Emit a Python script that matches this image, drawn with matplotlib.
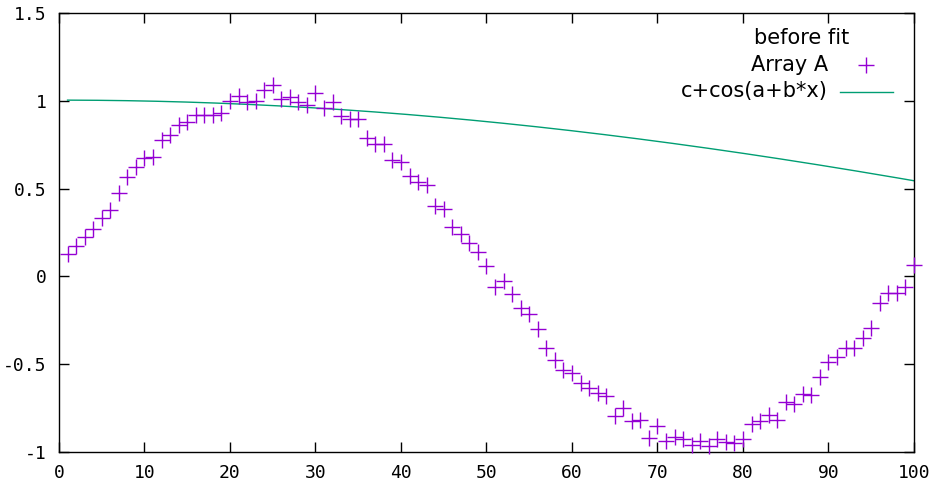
import numpy as np
import matplotlib
matplotlib.use("Agg")
import matplotlib.pyplot as plt

# ---- data ----
x_data = list(range(1, 101))
y_data = [0.128, 0.173, 0.223, 0.272, 0.335, 0.379, 0.474, 0.568, 0.622, 0.673,
          0.679, 0.778, 0.806, 0.863, 0.878, 0.920, 0.920, 0.922, 0.933, 1.000,
          1.028, 0.996, 1.000, 1.063, 1.093, 1.010, 1.025, 0.993, 0.979, 1.047,
          0.958, 0.994, 0.916, 0.897, 0.897, 0.787, 0.755, 0.755, 0.664, 0.654,
          0.572, 0.540, 0.521, 0.403, 0.384, 0.280, 0.242, 0.192, 0.139, 0.061,
          -0.059, -0.024, -0.101, -0.178, -0.216, -0.302, -0.406, -0.477, -0.534, -0.549,
          -0.606, -0.638, -0.667, -0.682, -0.794, -0.752, -0.823, -0.819, -0.923, -0.855,
          -0.937, -0.918, -0.929, -0.963, -0.937, -0.967, -0.929, -0.942, -0.948, -0.929,
          -0.841, -0.824, -0.790, -0.819, -0.718, -0.727, -0.670, -0.675, -0.572, -0.486,
          -0.458, -0.406, -0.410, -0.353, -0.296, -0.150, -0.093, -0.093, -0.059, 0.065]

# initial parameters of c+cos(a+b*x) (before fit)
param_a = 0.0
param_b = 0.01
param_c = 0.005

x_ticks = [0, 10, 20, 30, 40, 50, 60, 70, 80, 90, 100]
y_ticks = [-1, -0.5, 0, 0.5, 1, 1.5]
y_tick_labels = ["-1", "-0.5", "0", "0.5", "1", "1.5"]

legend_title = "before fit"
label_points = "Array A"
label_func = "c+cos(a+b*x)"

point_color = "#9400d3"
line_color = "#009e73"

W, H = 940, 492
fig = plt.figure(figsize=(W / 100, H / 100), dpi=100)
ax = fig.add_axes([59 / W, 1 - 451.8 / H, (914 - 59) / W, (451.8 - 13.3) / H])

xf = np.linspace(x_data[0], x_data[-1], 400)
yf = param_c + np.cos(param_a + param_b * xf)
ax.plot(xf, yf, color=line_color, lw=1.0, zorder=2)
ax.plot(x_data, y_data, linestyle="none", marker="+", ms=11, mew=1.0,
        color=point_color, zorder=3, clip_on=False)

ax.set_xlim(0, 100)
ax.set_ylim(-1, 1.5)
ax.set_xticks(x_ticks)
ax.set_yticks(y_ticks)
ax.set_yticklabels(y_tick_labels)
ax.tick_params(direction="in", length=7, width=1.0, top=True, right=True,
               labelsize=13, pad=9)
ax.tick_params(axis="x", pad=9)
for lab in ax.get_xticklabels() + ax.get_yticklabels():
    lab.set_family("DejaVu Sans Mono")
for s in ax.spines.values():
    s.set_linewidth(1.0)

def fx(px):
    return px / W

def fy(py):
    return 1 - py / H

fig.text(fx(802), fy(38.5), legend_title, ha="center", va="center", fontsize=15,
         family="DejaVu Sans")
fig.text(fx(828), fy(65), label_points, ha="right", va="center", fontsize=15,
         family="DejaVu Sans")
fig.text(fx(828), fy(91.5), label_func, ha="right", va="center", fontsize=15,
         family="DejaVu Sans")
fig.add_artist(plt.Line2D([fx(866)], [fy(65.5)], marker="+", ms=11, mew=1.0,
                          color=point_color, linestyle="none", transform=fig.transFigure))
fig.add_artist(plt.Line2D([fx(839.5), fx(892.5)], [fy(91.5), fy(91.5)], lw=1.0,
                          color=line_color, transform=fig.transFigure))

fig.savefig("out.png", dpi=100)
